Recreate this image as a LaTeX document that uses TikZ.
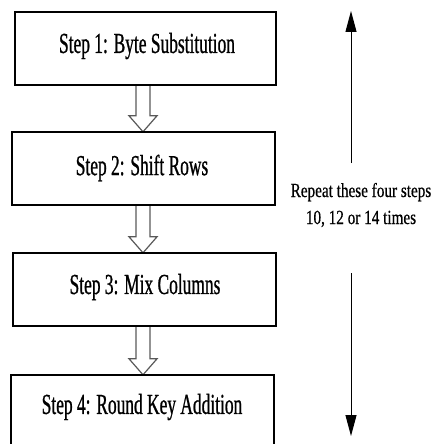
\documentclass[tikz,border=0pt]{standalone}
\usepackage{fontspec}
\setmainfont[FakeStretch=0.6,FakeBold=0.8]{Liberation Serif}
\newfontfamily\sidefont[FakeStretch=0.76,FakeBold=0.6]{Liberation Serif}
\usetikzlibrary{arrows.meta,calc}
\begin{document}
\begin{tikzpicture}[x=1pt,y=-1pt,
  stepbox/.style={draw=black,line width=1.5pt,inner sep=0pt},
  hollow/.style={draw=black!65,line width=1.2pt,line join=miter},
  repeatarrow/.style={draw=black,line width=1pt,-{Triangle[length=21pt,width=11pt]}},
  boxtext/.style={font=\fontsize{29}{34}\selectfont},
  sidetext/.style={font=\sidefont\fontsize{20}{27}\selectfont,align=center}]
\useasboundingbox (0,0) rectangle (435,444);
\clip (0,0) rectangle (435,444);
% box anchors
\node[inner sep=0pt,minimum width=261pt,minimum height=73pt] (b1) at (145.5,48.5) {};
\node[inner sep=0pt,minimum width=263pt,minimum height=73pt] (b2) at (143.5,168.5) {};
\node[inner sep=0pt,minimum width=263pt,minimum height=73pt] (b3) at (144.5,289.5) {};
\node[inner sep=0pt,minimum width=263pt,minimum height=95pt] (b4) at (142.5,422.5) {};
% hollow arrows
\coordinate (ax) at (143,0);
\foreach \a/\b in {b1/b2,b2/b3,b3/b4}{
  \draw[hollow] ($(\a.south -| ax)+(-7,0)$) -- ($(\b.north -| ax)+(-7,-16)$)
    -- ($(\b.north -| ax)+(-14,-16)$) -- (\b.north -| ax)
    -- ($(\b.north -| ax)+(14,-16)$) -- ($(\b.north -| ax)+(7,-16)$)
    -- ($(\a.south -| ax)+(7,0)$);
}
% boxes
\draw[stepbox] (b1.north west) rectangle (b1.south east);
\draw[stepbox] (b2.north west) rectangle (b2.south east);
\draw[stepbox] (b3.north west) rectangle (b3.south east);
\draw[stepbox] (b4.north west) rectangle (b4.south east);
\node[boxtext] (t1) at (147,46) {Step 1: Byte Substitution};
\node[boxtext] (t2) at (142,168) {Step 2: Shift Rows};
\node[boxtext] (t3) at (145,287) {Step 3: Mix Columns};
\node[boxtext] (t4) at (142,407) {Step 4: Round Key Addition};
% repeat arrows
\node[sidetext] (rep) at (361,205) {Repeat these four steps\\10, 12 or 14 times};
\coordinate (ut) at (351,163);
\coordinate (uh) at (351,11);
\coordinate (lt) at (351,273);
\coordinate (lh) at (351,436);
\draw[repeatarrow] (ut) -- (uh);
\draw[repeatarrow] (lt) -- (lh);
\end{tikzpicture}
\end{document}
